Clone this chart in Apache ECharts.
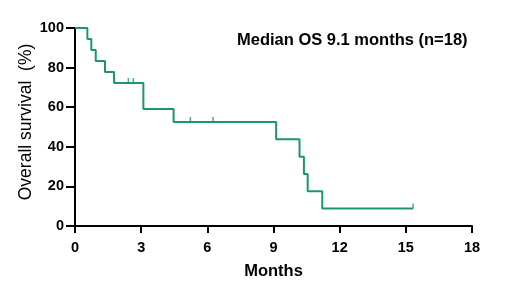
<!DOCTYPE html>
<html><head><meta charset="utf-8">
<script src="https://cdn.jsdelivr.net/npm/echarts@6/dist/echarts.min.js"></script>
<style>html,body{margin:0;padding:0;background:#fff}#c{width:520px;height:295px}</style>
</head><body><div id="c"></div>
<script>
// Kaplan-Meier step points: time (months) and survival (%) after the event
var eventTimes = [0, 0.56, 0.74, 0.94, 1.36, 1.77, 3.1, 3.1, 4.47, 9.12, 10.18, 10.38, 10.55, 11.21, 15.33];
var survival   = [100, 94.4, 88.9, 83.3, 77.8, 72.2, 65.7, 59.1, 52.5, 43.8, 35.0, 26.3, 17.5, 8.8, 8.8];
// censored observations
var censorTimes = [2.42, 2.65, 5.23, 6.26, 15.33];
var censorSurv  = [72.2, 72.2, 52.5, 52.5, 8.8];
var xTicks = [0, 3, 6, 9, 12, 15, 18];
var yTicks = [0, 20, 40, 60, 80, 100];
var titleText = 'Median OS 9.1 months (n=18)';

var green = '#1d9670';
var font = 'Liberation Sans, Arial, sans-serif';
var chart = echarts.init(document.getElementById('c'));
chart.setOption({
  animation: false,
  title: { text: titleText, left: 232, top: 27,
    textStyle: { fontFamily: font, fontSize: 16.5, fontWeight: 'bold', color: '#000' } },
  grid: { left: 75, right: 48, top: 28, bottom: 69 },
  xAxis: { type: 'value', min: xTicks[0], max: xTicks[xTicks.length-1], interval: 3,
    name: 'Months', nameLocation: 'middle', nameGap: 37,
    nameTextStyle: { fontFamily: font, fontSize: 16.5, fontWeight: 'bold', color: '#000' },
    axisLine: { lineStyle: { color: '#000', width: 2 } },
    axisTick: { show: true, length: 7, lineStyle: { color: '#000', width: 2 } },
    axisLabel: { fontFamily: font, fontSize: 14.5, fontWeight: 'bold', color: '#000', margin: 14 },
    splitLine: { show: false } },
  yAxis: { type: 'value', min: yTicks[0], max: yTicks[yTicks.length-1], interval: 20,
    name: 'Overall survival  (%)', nameLocation: 'middle', nameGap: 40, nameMoveOverlap: false,
    nameTextStyle: { fontFamily: font, fontSize: 17.5, color: '#000', padding: [0, 0, 0, 10] },
    axisLine: { show: true, lineStyle: { color: '#000', width: 2 } },
    axisTick: { show: true, length: 9, lineStyle: { color: '#000', width: 2 } },
    axisLabel: { fontFamily: font, fontSize: 14.5, fontWeight: 'bold', color: '#000', margin: 11 },
    splitLine: { show: false } },
  series: [
    { type: 'line', step: 'end', symbol: 'none',
      data: eventTimes.map(function(t, i){ return [t, survival[i]]; }),
      lineStyle: { color: green, width: 2 }, z: 3 },
    { type: 'scatter', symbol: 'rect', symbolSize: [1.5, 5], symbolOffset: [0, -2.5],
      data: censorTimes.map(function(t, i){ return [t, censorSurv[i]]; }),
      itemStyle: { color: green }, z: 4 }
  ]
});
</script></body></html>
